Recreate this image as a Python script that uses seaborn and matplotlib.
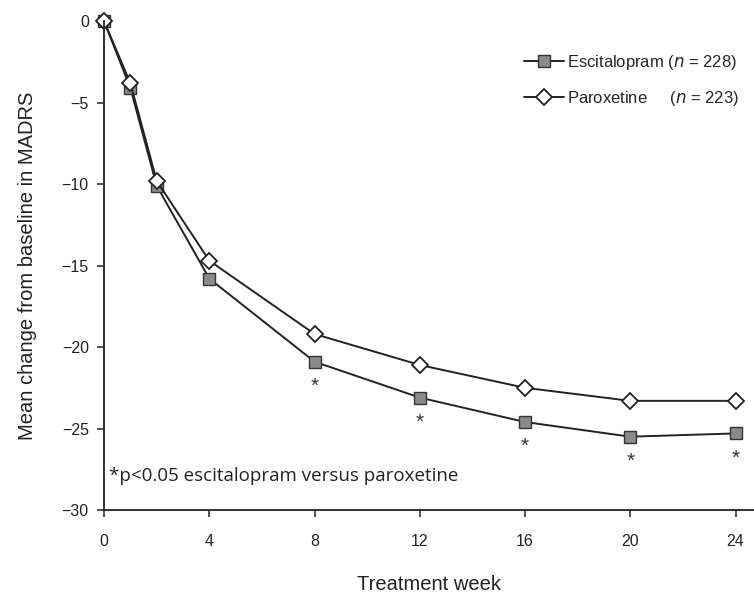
import pandas as pd
import matplotlib.pyplot as plt
import seaborn as sns

# values
weeks = [0, 1, 2, 4, 8, 12, 16, 20, 24]
escitalopram = [0, -4.1, -10.1, -15.8, -20.9, -23.1, -24.6, -25.5, -25.3]
paroxetine = [0, -3.8, -9.8, -14.7, -19.2, -21.1, -22.5, -23.3, -23.3]
sig_weeks = [8, 12, 16, 20, 24]
xticks = [0, 4, 8, 12, 16, 20, 24]
yticks = [0, -5, -10, -15, -20, -25, -30]

sns.set_style("ticks")
plt.rcParams['font.family'] = ['Liberation Sans', 'DejaVu Sans']

df_e = pd.DataFrame({'week': weeks, 'change': escitalopram})
df_p = pd.DataFrame({'week': weeks, 'change': paroxetine})

fig = plt.figure(figsize=(7.54, 6.05), dpi=100)
ax = fig.add_axes([0.138, 0.157, 0.862, 0.808])

sns.lineplot(data=df_e, x='week', y='change', ax=ax, color='#222222', linewidth=1.4,
             marker='s', markersize=8, markerfacecolor='#8a8a8a', markeredgecolor='#333333',
             markeredgewidth=1.0, label=r'Escitalopram ($n$ = 228)', clip_on=False)
sns.lineplot(data=df_p, x='week', y='change', ax=ax, color='#222222', linewidth=1.4,
             marker='D', markersize=8, markerfacecolor='white', markeredgecolor='#222222',
             markeredgewidth=1.3, label=r'Paroxetine     ($n$ = 223)', clip_on=False)

# significance stars under escitalopram points
for w in sig_weeks:
    y = escitalopram[weeks.index(w)]
    ax.text(w, y - 1.5, '*', ha='center', va='center', fontsize=15, color='#333333')

ax.text(0.2, -27.9, '*p<0.05 escitalopram versus paroxetine', fontsize=13.5,
        family=['Open Sans', 'DejaVu Sans'], color='#222222', va='center')

ax.set_xlim(0, 24.7)
ax.set_ylim(-30, 0)
ax.set_xticks(xticks)
ax.set_yticks(yticks)
ax.tick_params(labelsize=11.5, length=5, width=1.1, colors='#222222', pad=12)
ax.tick_params(axis='y', pad=6)
for s in ['left', 'bottom']:
    ax.spines[s].set_linewidth(1.3)
    ax.spines[s].set_color('#222222')
sns.despine(ax=ax)

ax.set_xlabel('Treatment week', fontsize=14.5, labelpad=19, color='#222222')
ax.set_ylabel('Mean change from baseline in MADRS', fontsize=14.5, labelpad=18, color='#222222')

leg = ax.legend(loc='upper right', bbox_to_anchor=(1.0, 0.965), frameon=False, fontsize=12,
                handlelength=2.4, handletextpad=0.2, labelspacing=1.0)

fig.savefig('out.png', dpi=100)
